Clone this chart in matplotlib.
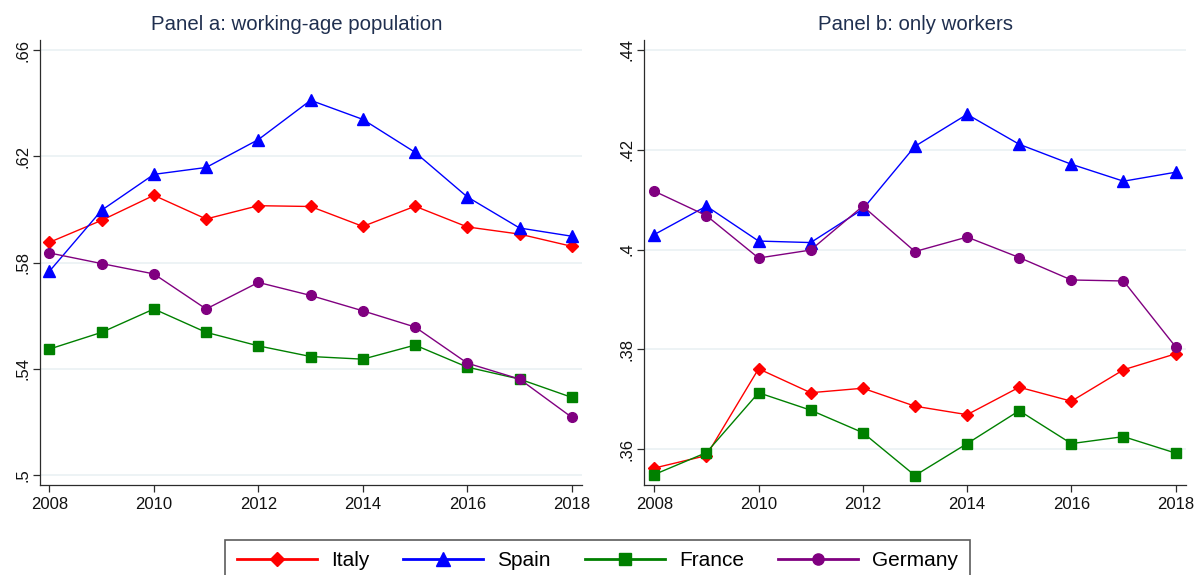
import numpy as np
import matplotlib
matplotlib.use("Agg")
import matplotlib.pyplot as plt
from matplotlib.ticker import FuncFormatter

# --- data ---
years = list(range(2008, 2019))
countries = ["Italy", "Spain", "France", "Germany"]

# Panel a: working-age population
italy_a = [0.5876, 0.5959, 0.6053, 0.5964, 0.6014, 0.6011, 0.5936, 0.6012, 0.5934, 0.5907, 0.5861]
spain_a = [0.5767, 0.5997, 0.6132, 0.6158, 0.6263, 0.6411, 0.6339, 0.6215, 0.6047, 0.5930, 0.5899]
france_a = [0.5474, 0.5537, 0.5625, 0.5537, 0.5486, 0.5446, 0.5436, 0.5489, 0.5406, 0.5361, 0.5292]
germany_a = [0.5836, 0.5796, 0.5757, 0.5625, 0.5725, 0.5676, 0.5618, 0.5557, 0.5421, 0.5361, 0.5217]

# Panel b: only workers
italy_b = [0.3562, 0.3587, 0.3761, 0.3713, 0.3722, 0.3686, 0.3669, 0.3724, 0.3696, 0.3759, 0.3791]
spain_b = [0.4030, 0.4087, 0.4017, 0.4014, 0.4081, 0.4207, 0.4271, 0.4211, 0.4171, 0.4137, 0.4155]
france_b = [0.3549, 0.3593, 0.3713, 0.3678, 0.3633, 0.3547, 0.3611, 0.3677, 0.3611, 0.3625, 0.3592]
germany_b = [0.4117, 0.4068, 0.3983, 0.3999, 0.4087, 0.3996, 0.4025, 0.3984, 0.3939, 0.3937, 0.3805]

xticks = [2008, 2010, 2012, 2014, 2016, 2018]
yticks_a = [0.50, 0.54, 0.58, 0.62, 0.66]
yticks_b = [0.36, 0.38, 0.40, 0.42, 0.44]

# --- style ---
COLORS = ["#ff0000", "#0000ff", "#008000", "#800080"]
MARKERS = ["D", "^", "s", "o"]
MSIZES = [6.2, 8.5, 7.2, 7.0]
GRID_COLOR = "#e8f0f2"
AXIS_COLOR = "#2b2b2b"
TITLE_COLOR = "#1f2f4f"

plt.rcParams["font.family"] = ["Liberation Sans", "DejaVu Sans"]


def stata_fmt(v, pos):
    s = f"{v:.2f}".rstrip("0").rstrip(".")
    if s.startswith("0."):
        s = s[1:]
    return s


def style_axis(ax, yticks, ylim, xlim):
    ax.set_xlim(*xlim)
    ax.set_ylim(*ylim)
    ax.set_xticks(xticks)
    ax.set_yticks(yticks)
    ax.yaxis.set_major_formatter(FuncFormatter(stata_fmt))
    for lab in ax.get_yticklabels():
        lab.set_rotation(90)
        lab.set_va("center")
    ax.tick_params(axis="both", labelsize=12, length=4.8, width=0.9,
                   color=AXIS_COLOR, labelcolor="#111111", pad=4)
    ax.tick_params(axis="y", pad=2)
    ax.spines["top"].set_visible(False)
    ax.spines["right"].set_visible(False)
    for side in ("left", "bottom"):
        ax.spines[side].set_color(AXIS_COLOR)
        ax.spines[side].set_linewidth(0.9)
    ax.grid(axis="y", color=GRID_COLOR, linewidth=1.1)
    ax.set_axisbelow(True)


fig = plt.figure(figsize=(11.94, 5.75), dpi=100)
ax_a = fig.add_axes([0.0333, 0.1565, 0.4539, 0.7739])
ax_b = fig.add_axes([0.5396, 0.1565, 0.4534, 0.7739])

series_a = [italy_a, spain_a, france_a, germany_a]
series_b = [italy_b, spain_b, france_b, germany_b]

handles = []
for vals, c, m, ms, name in zip(series_a, COLORS, MARKERS, MSIZES, countries):
    h, = ax_a.plot(years, vals, color=c, marker=m, markersize=ms, linewidth=1.0,
                   label=name)
    handles.append(h)
for vals, c, m, ms in zip(series_b, COLORS, MARKERS, MSIZES):
    ax_b.plot(years, vals, color=c, marker=m, markersize=ms, linewidth=1.0)

style_axis(ax_a, yticks_a, (0.4962, 0.6638), (2008 - 0.185, 2018 + 0.19))
style_axis(ax_b, yticks_b, (0.3528, 0.4420), (2008 - 0.192, 2018 + 0.192))

fig.text(296.5 / 1194, 1 - 25 / 575, "Panel a: working-age population",
         ha="center", va="center", fontsize=14.7, color=TITLE_COLOR)
fig.text(915.5 / 1194, 1 - 25 / 575, "Panel b: only workers",
         ha="center", va="center", fontsize=14.7, color=TITLE_COLOR)

# legend box runs off the bottom edge, like the reference
leg = fig.legend(handles, countries, loc="upper center", ncol=4,
                 bbox_to_anchor=(597.5 / 1194, 1 - 540 / 575),
                 borderaxespad=0.0,
                 fontsize=15, frameon=True, fancybox=False, shadow=False,
                 handlelength=3.85, handletextpad=0.67, columnspacing=1.63,
                 borderpad=0.55, markerscale=1.15)
leg.get_frame().set_edgecolor("#333333")
leg.get_frame().set_linewidth(1.2)
for line in leg.get_lines():
    line.set_linewidth(2.0)

fig.savefig("out.png", dpi=100, facecolor="white")
